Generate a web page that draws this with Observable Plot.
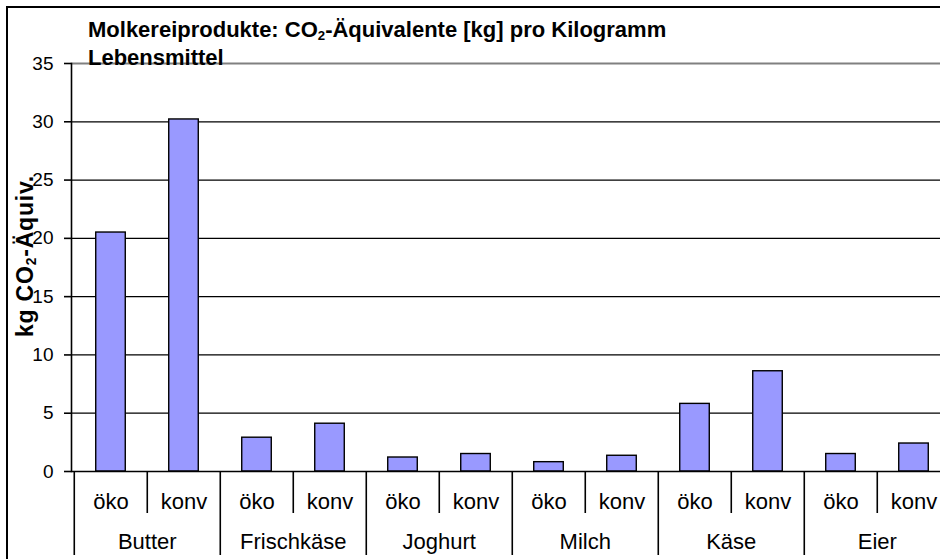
<!DOCTYPE html>
<html>
<head>
<meta charset="utf-8">
<script src="https://cdn.jsdelivr.net/npm/d3@7"></script>
<script src="https://cdn.jsdelivr.net/npm/@observablehq/plot@0.6"></script>
<style>
  html, body { margin: 0; padding: 0; background: #fff; overflow: hidden; width: 940px; height: 559px; }
  #wrap { position: relative; width: 940px; height: 559px; overflow: hidden; font-family: "Liberation Sans", Arial, sans-serif; }
  #bt { position: absolute; left: 6px; top: 6px; width: 934px; height: 2px; background: #000; }
  #bl { position: absolute; left: 6px; top: 6px; width: 2px; height: 553px; background: #000; }
  #chart { position: absolute; left: 0; top: 0; width: 940px; height: 559px; overflow: hidden; }
  #chart svg { max-width: none !important; }
  #title { position: absolute; left: 88px; top: 16px; font-weight: bold; font-size: 22px; line-height: 28px; color: #000; white-space: nowrap; }
  #title sub, #ylabel sub { font-size: 0.6em; vertical-align: -0.25em; line-height: 0; }
  #ylabel { position: absolute; left: 25px; top: 256px; transform: translate(-50%, -50%) rotate(-90deg); font-weight: bold; font-size: 23px; letter-spacing: 0.8px; color: #000; white-space: nowrap; }
</style>
</head>
<body>
<div id="wrap">
  <div id="bt"></div>
  <div id="bl"></div>
  <div id="chart"></div>
  <div id="title">Molkereiprodukte: CO<sub>2</sub>-Äquivalente [kg] pro Kilogramm<br>Lebensmittel</div>
  <div id="ylabel">kg CO<sub>2</sub>-Äquiv.</div>
</div>
<script>
const groups = ["Butter", "Frischkäse", "Joghurt", "Milch", "Käse", "Eier"];
const types = ["öko", "konv"];
const oeko = [20.5, 2.9, 1.2, 0.8, 5.8, 1.5];
const konv = [30.2, 4.1, 1.5, 1.35, 8.6, 2.4];
const yTicks = [0, 5, 10, 15, 20, 25, 30, 35];

const data = groups.flatMap((g, i) => [
  {key: g + "|" + types[0], group: g, type: types[0], value: oeko[i]},
  {key: g + "|" + types[1], group: g, type: types[1], value: konv[i]}
]);
const keys = data.map(d => d.key);
const oekoKeys = data.filter(d => d.type === types[0]).map(d => d.key);
const konvKeys = data.filter(d => d.type === types[1]).map(d => d.key);

const W = 960, ML = 71, MR = 7.5;
const bw = (W - ML - MR) / keys.length;

const chart = Plot.plot({
  width: W,
  height: 559,
  marginLeft: ML,
  marginRight: MR,
  marginTop: 63,
  marginBottom: 88,
  style: {fontFamily: '"Liberation Sans", Arial, sans-serif', background: "transparent", color: "#000", maxWidth: "none"},
  x: {domain: keys, padding: 0, axis: null, label: null},
  y: {domain: [0, 35], axis: null, label: null},
  marks: [
    Plot.ruleY(yTicks.filter(v => v > 0 && v < 35), {stroke: "#000", strokeWidth: 1.2}),
    Plot.ruleY([35], {stroke: "#808080", strokeWidth: 2}),
    Plot.barY(data, {x: "key", y: "value", fill: "#9999ff", stroke: "#000", strokeWidth: 1.4, insetLeft: (bw - 30) / 2, insetRight: (bw - 30) / 2}),
    Plot.ruleY([0], {stroke: "#000", strokeWidth: 1.6}),
    Plot.frame({anchor: "left", stroke: "#000", strokeWidth: 1.6}),
    Plot.axisY({ticks: yTicks, label: null, tickSize: 7, tickPadding: 11, fontSize: 19, strokeWidth: 1.6, tickFormat: d => String(d)}),
    Plot.axisX({ticks: konvKeys, label: null, tickSize: 42, dx: -bw / 2, strokeWidth: 1.6, tickFormat: () => ""}),
    Plot.axisX({ticks: oekoKeys, label: null, tickSize: 84, dx: -bw / 2, strokeWidth: 1.6, tickFormat: () => ""}),
    Plot.axisX({ticks: keys, label: null, tickSize: 0, tickPadding: 22, fontSize: 22, tickFormat: d => d.split("|")[1]}),
    Plot.axisX({ticks: konvKeys, label: null, tickSize: 0, tickPadding: 62, fontSize: 22, dx: -bw / 2, tickFormat: d => d.split("|")[0]})
  ]
});
chart.style.maxWidth = "none";
chart.style.display = "block";
document.getElementById("chart").appendChild(chart);
</script>
</body>
</html>
